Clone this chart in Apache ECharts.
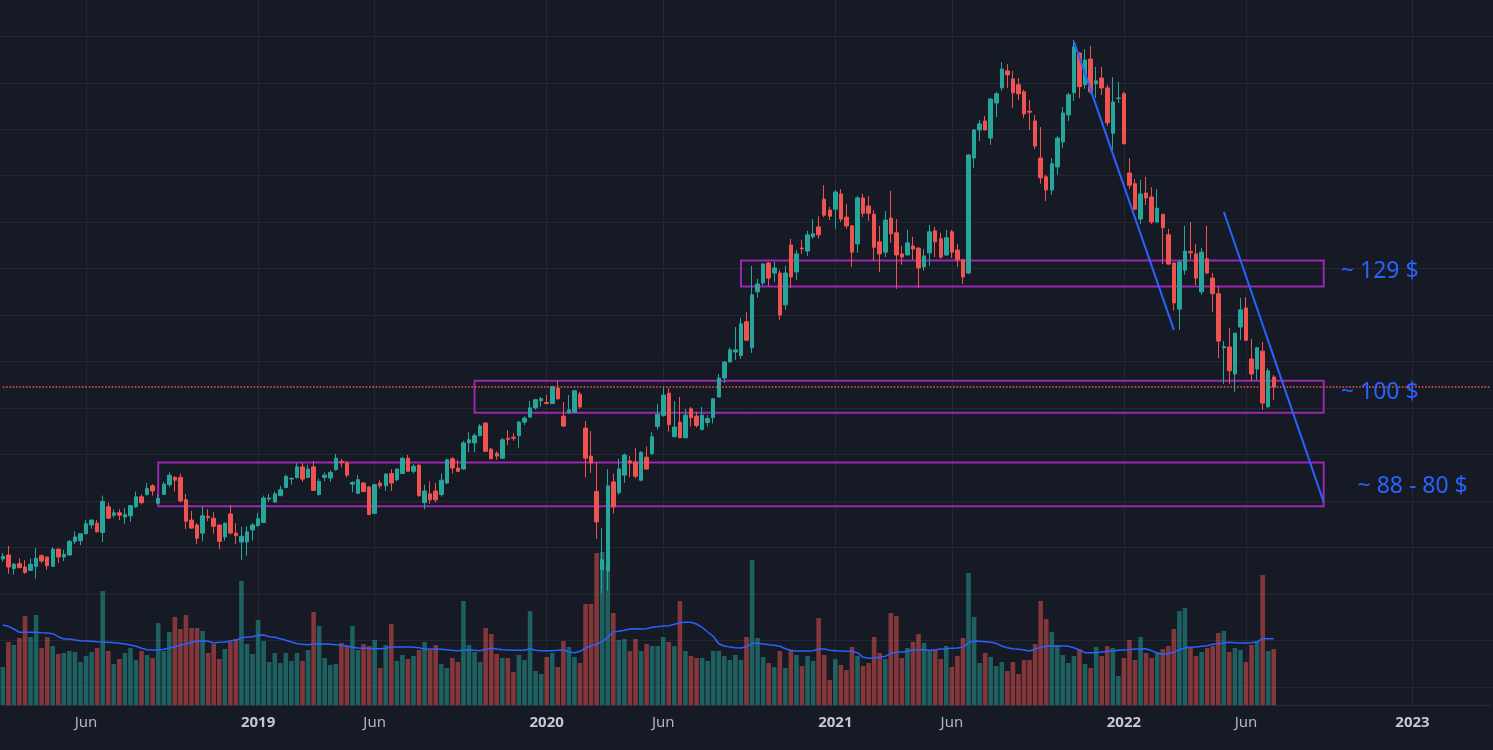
<!DOCTYPE html>
<html>
<head>
<meta charset="utf-8">
<title>Weekly price chart</title>
<script src="https://cdn.jsdelivr.net/npm/echarts@6.0.0/dist/echarts.min.js"></script>
<style>
html,body{margin:0;padding:0;background:#161a25;overflow:hidden;}
#chart{width:1493px;height:750px;}
</style>
</head>
<body>
<div id="chart"></div>
<script>
// ---------- DATA (weekly bars) ----------
const startDate = '2018-02-19';
const weekCount = 269; // visible time scale incl. empty future weeks

const open = [
70.7,71.3,69.3,70.0,69.5,69.0,69.6,71.2,71.0,69.6,
72.2,71.0,71.3,73.4,73.5,74.6,76.0,76.3,74.8,79.0,
77.6,78.0,77.3,77.5,79.0,80.7,81.1,82.6,79.6,81.1,
82.8,84.1,84.1,80.2,76.8,76.0,74.7,77.4,77.1,76.0,
74.1,77.8,74.7,73.3,73.3,75.2,75.9,76.4,80.3,79.8,
80.9,82.3,83.8,84.1,86.0,84.1,86.0,81.1,84.1,84.0,
85.5,87.0,86.7,82.9,81.3,83.1,82.4,77.9,83.1,82.6,
84.8,83.7,84.8,87.6,85.2,86.3,79.7,81.2,81.7,81.1,
83.1,87.5,85.8,85.6,90.5,90.5,91.9,94.4,89.3,88.5,
87.6,91.4,91.6,91.9,94.6,95.6,97.5,99.0,98.6,98.4,
101.7,95.8,96.5,96.6,100.4,93.4,88.0,81.6,69.1,68.9,
83.3,81.4,84.5,87.1,86.9,83.6,87.8,88.5,93.7,95.9,
100.6,91.7,94.6,91.5,97.3,95.8,93.1,94.5,95.5,99.8,
103.9,107.5,109.8,109.0,117.1,110.8,124.8,127.2,132.7,129.9,
129.9,121.4,137.9,130.2,137.0,136.1,140.3,143.3,152.0,148.5,
148.8,153.7,146.3,143.6,138.2,152.4,149.8,147.2,138.8,135.8,
146.0,141.5,135.3,135.0,137.6,137.0,131.6,135.6,142.1,139.7,
135.0,141.8,136.4,133.6,129.9,165.9,176.1,179.5,173.1,186.5,
192.6,199.7,196.3,193.9,191.0,183.3,179.5,165.9,159.4,155.0,
162.8,171.7,181.8,190.6,207.4,193.9,204.8,194.3,196.7,192.6,
174.9,188.3,190.2,160.7,157.1,145.7,154.0,152.7,144.8,147.2,
140.9,132.7,120.3,130.7,136.0,135.3,124.8,133.9,128.5,124.3,
110.8,111.0,104.8,115.8,120.6,108.2,105.9,110.0,97.7,104.1];

const high = [
71.6,72.7,70.1,70.8,70.5,70.8,72.4,71.4,71.0,72.5,
72.3,72.1,73.6,75.0,74.7,76.8,76.9,76.8,80.9,79.7,
78.6,78.6,78.8,79.3,81.6,81.1,83.1,82.9,81.1,83.3,
85.0,84.3,84.8,81.2,78.3,76.3,79.0,78.6,78.1,76.0,
76.4,79.3,76.3,75.7,75.8,76.3,78.0,80.9,81.2,81.6,
82.6,84.6,84.1,86.7,86.7,86.4,87.1,83.9,85.0,85.4,
88.4,87.5,87.1,83.4,84.5,83.2,82.6,83.0,83.6,84.8,
85.6,85.7,87.8,88.2,86.5,86.5,82.8,83.4,83.1,84.8,
87.5,87.8,87.3,90.9,92.6,92.4,94.2,94.6,89.5,88.9,
91.5,93.0,92.4,94.8,95.8,99.0,99.4,99.8,100.2,102.2,
103.3,98.7,100.2,101.3,100.9,94.8,92.8,86.9,75.5,85.6,
84.8,87.5,88.5,88.0,89.5,88.9,89.8,92.6,98.3,102.1,
101.7,98.9,99.8,97.3,97.7,96.7,97.7,96.0,99.5,104.8,
107.6,110.8,115.8,118.1,119.6,131.9,128.3,132.7,133.0,133.0,
130.7,131.9,139.7,136.4,139.4,142.1,145.7,146.6,156.6,149.5,
155.0,155.3,150.4,143.9,153.0,153.7,153.0,148.5,143.6,148.2,
154.7,145.7,137.6,142.4,140.3,137.1,136.7,143.9,143.3,141.5,
142.4,142.4,138.2,133.9,167.4,176.5,179.9,181.4,188.2,191.0,
203.5,202.6,199.7,196.7,191.8,187.7,181.8,177.2,160.1,165.9,
173.8,184.9,190.6,213.3,207.6,209.2,210.6,201.4,201.4,193.9,
197.1,195.1,191.0,165.9,158.7,158.4,159.4,155.9,155.3,147.3,
142.7,132.8,133.6,143.6,144.8,138.2,137.0,143.6,129.9,126.4,
112.4,115.6,114.4,123.2,123.4,112.9,111.0,112.2,106.1,104.6];

const low = [
70.3,68.5,68.4,69.4,68.5,68.9,67.8,70.1,69.1,69.5,
70.1,70.4,71.2,73.0,72.8,74.5,75.4,74.8,73.3,77.0,
77.2,76.8,76.2,76.5,78.8,79.4,80.9,80.9,79.5,81.0,
82.4,81.6,79.7,75.3,75.4,73.0,73.4,76.6,74.6,72.2,
73.5,74.5,73.0,70.5,71.2,73.5,75.7,76.3,79.8,79.7,
80.8,82.2,82.8,83.9,83.3,84.0,81.7,80.9,83.4,83.3,
85.3,85.9,84.1,81.5,81.2,81.5,77.6,77.8,82.1,81.7,
81.7,83.4,84.7,85.1,84.8,80.7,78.6,79.5,79.7,80.7,
82.9,84.8,85.1,85.5,88.7,88.7,91.8,88.8,87.4,87.3,
87.5,90.1,90.9,89.5,94.0,95.5,97.1,97.7,98.3,98.3,
99.2,93.6,96.3,96.5,97.3,84.1,84.9,73.8,65.7,66.1,
77.9,81.1,83.1,84.1,83.9,83.4,85.5,88.2,93.1,95.7,
92.7,91.6,91.4,91.4,93.7,93.5,93.0,93.7,94.3,99.7,
102.8,107.4,108.0,108.2,112.5,109.6,123.2,126.6,126.4,127.4,
117.6,120.1,125.8,128.0,135.3,134.7,139.7,139.7,146.3,145.4,
142.7,144.8,142.7,131.6,135.6,146.3,145.1,133.3,130.2,134.4,
138.5,125.6,132.2,134.9,133.6,125.8,130.5,131.9,134.4,133.9,
134.7,134.1,131.6,126.9,129.6,162.5,172.0,176.0,170.6,181.0,
191.4,192.6,184.6,187.7,180.6,176.1,169.1,157.1,151.4,153.4,
160.1,169.5,179.5,187.3,188.5,192.2,190.2,188.5,189.8,177.6,
168.8,186.5,170.9,155.3,148.5,144.2,150.1,144.2,144.5,132.4,
132.2,119.9,115.1,129.4,133.9,126.6,124.0,129.6,119.6,108.4,
102.6,102.6,100.9,112.6,112.4,103.2,103.5,97.1,97.6,99.2];

const close = [
71.1,69.5,69.9,69.4,68.7,69.9,70.8,70.4,69.7,72.2,
71.0,71.4,73.4,74.1,74.6,76.2,76.8,74.9,79.9,77.1,
78.0,77.6,77.7,79.2,80.7,79.7,82.1,81.7,80.4,82.9,
84.5,83.6,80.0,76.6,75.5,73.9,77.5,77.2,75.8,73.4,
76.3,74.7,74.3,74.2,74.9,76.0,77.0,80.5,80.5,81.2,
81.9,84.3,83.9,86.0,83.8,85.6,81.8,83.4,84.5,85.0,
87.6,86.8,84.5,83.2,83.7,81.6,77.7,82.8,82.6,84.7,
83.1,85.6,87.6,85.2,86.1,80.9,81.7,80.2,80.2,83.6,
87.3,85.8,85.2,90.5,91.1,91.9,93.8,88.9,87.5,88.0,
91.1,91.2,91.4,94.6,95.4,97.5,99.2,99.4,98.4,102.0,
99.4,93.8,97.1,101.1,97.7,87.6,86.7,76.5,70.6,82.6,
79.0,85.6,88.2,86.7,84.3,88.7,85.6,91.7,96.2,100.2,
94.1,93.6,91.5,96.0,95.5,93.9,96.0,95.3,99.4,103.9,
107.5,110.3,110.3,116.6,112.6,124.0,126.9,132.4,128.5,131.3,
118.8,129.9,128.8,135.3,136.8,140.9,141.2,140.9,146.9,146.6,
154.3,145.7,143.6,135.8,152.4,147.5,147.5,137.2,135.3,145.4,
141.2,135.0,134.4,138.5,136.7,131.3,134.7,141.8,138.8,134.4,
140.0,135.8,133.6,128.8,167.0,176.1,178.4,176.1,188.1,190.2,
200.5,198.0,190.6,190.2,182.2,182.9,170.2,159.1,155.0,163.9,
173.1,182.6,189.8,210.1,193.1,204.4,191.0,195.5,192.6,178.8,
186.9,188.5,171.0,156.6,148.8,153.7,152.4,144.8,149.1,143.0,
132.4,121.9,133.0,136.1,135.6,128.5,135.8,129.9,124.3,112.4,
111.1,105.5,114.3,120.1,112.6,104.8,110.8,98.5,105.5,101.9];

// volume (millions, estimated)
const volume = [
3.8,6.3,6.0,6.7,8.9,6.8,9.0,5.7,6.8,5.9,
5.1,5.2,5.4,5.3,4.3,4.9,5.3,5.7,11.4,5.4,
4.1,4.6,5.2,5.7,4.5,5.4,5.0,4.7,8.2,5.4,
7.3,8.8,7.6,9.0,7.7,7.7,7.4,5.2,6.1,4.6,
5.6,6.3,6.6,12.4,6.1,5.1,8.5,6.4,4.3,5.2,
4.2,5.2,4.4,5.2,4.4,5.5,9.3,7.9,4.7,4.0,
4.1,6.2,5.9,7.9,5.5,6.1,5.9,6.5,3.7,6.0,
8.1,4.4,5.0,4.6,4.9,5.5,6.3,5.5,6.0,4.1,
3.7,4.7,4.3,10.4,6.0,5.3,4.3,7.7,7.1,5.1,
4.7,4.7,3.3,5.0,4.5,9.4,3.4,3.1,4.8,5.2,
3.8,6.4,5.8,4.8,4.2,10.1,10.1,15.2,15.3,14.0,
9.2,6.5,6.6,5.4,6.6,5.4,6.1,5.9,5.9,6.8,
6.3,5.9,10.4,5.4,4.9,4.7,4.7,4.4,5.4,5.4,
4.9,4.5,5.0,4.5,6.8,14.5,6.7,4.8,4.2,3.8,
5.4,3.7,5.5,5.0,3.9,4.9,4.4,8.7,5.0,2.5,
4.6,4.0,3.5,5.8,4.9,3.9,4.2,6.8,5.2,4.6,
9.2,8.9,4.7,5.7,6.3,7.1,6.2,5.5,5.5,4.6,
5.9,3.8,4.9,6.7,13.2,8.8,4.2,5.2,4.8,3.9,
4.3,3.4,4.3,3.1,4.5,4.5,6.1,10.4,8.6,7.3,
5.9,5.0,4.2,4.9,5.6,4.1,3.7,5.8,4.9,5.9,
5.7,2.9,4.7,6.5,4.5,6.8,5.2,4.7,5.3,5.6,
5.9,7.6,9.4,9.7,5.7,4.9,5.3,5.7,5.9,7.2,
7.4,5.3,5.7,5.5,4.3,6.0,6.4,13.0,5.4,5.6];

// volume moving average as drawn
const volumeMA = [
8.00,7.87,7.60,7.27,7.27,7.27,7.27,7.23,7.20,7.13,
6.83,6.60,6.60,6.50,6.43,6.40,6.37,6.33,6.30,6.27,
6.23,6.17,6.10,6.00,5.87,5.67,5.53,5.50,5.50,5.57,
5.70,5.83,5.97,6.10,6.27,6.40,6.43,6.37,6.20,6.27,
6.30,6.40,6.50,6.70,6.80,6.83,6.97,7.00,6.83,6.77,
6.63,6.47,6.30,6.13,6.07,6.03,6.10,6.13,6.10,6.07,
6.03,6.00,5.90,5.77,5.70,5.67,5.67,5.63,5.63,5.67,
5.80,5.80,5.80,5.80,5.77,5.73,5.57,5.60,5.60,5.57,
5.53,5.47,5.43,5.47,5.50,5.47,5.43,5.57,5.67,5.60,
5.53,5.50,5.47,5.47,5.47,5.63,5.47,5.43,5.43,5.43,
5.47,5.50,5.30,5.23,5.37,5.70,5.90,6.07,6.37,6.77,
7.30,7.37,7.47,7.60,7.63,7.60,7.63,7.77,7.83,7.90,
7.93,8.07,8.23,8.27,8.27,8.10,7.77,7.30,6.87,6.13,
5.90,5.80,5.73,5.70,5.83,6.17,6.17,6.10,6.03,5.97,
5.87,5.63,5.47,5.40,5.40,5.40,5.43,5.60,5.60,5.47,
5.43,5.40,5.37,5.37,5.23,4.77,4.67,4.70,4.77,4.87,
5.17,5.27,5.30,5.37,5.50,5.53,5.53,5.47,5.53,5.60,
5.63,5.67,5.70,5.77,6.23,6.40,6.37,6.33,6.27,6.17,
5.90,5.73,5.63,5.57,5.50,5.40,5.60,5.77,5.87,5.90,
5.93,5.90,5.87,5.73,5.50,5.23,5.23,5.23,5.30,5.37,
5.43,5.47,5.50,5.53,5.60,5.60,5.63,5.43,5.20,5.07,
5.13,5.30,5.53,5.70,5.77,5.80,5.87,5.93,6.07,6.13,
6.20,6.27,6.23,6.20,6.20,6.23,6.33,6.63,6.63,6.63];

// time-axis tick labels
const tickDates  = ['2018-06-04','2019-01-07','2019-06-03','2020-01-06','2020-06-01','2021-01-04','2021-05-31','2022-01-03','2022-06-06','2023-01-02'];
const tickLabels = ['Jun','2019','Jun','2020','Jun','2021','Jun','2022','Jun','2023'];

// drawings: price zones, trend lines, notes
const zoneFrom   = ['2018-09-03','2019-10-07','2020-09-07'];
const zoneTo     = ['2022-09-12','2022-09-12','2022-09-12'];
const zoneTop    = [86.8, 103.3, 133.4];
const zoneBottom = [79.1, 96.5, 126.2];

const trendFrom      = ['2021-11-01','2022-05-09'];
const trendFromPrice = [212.5, 148.0];
const trendTo        = ['2022-03-07','2022-09-12'];
const trendToPrice   = [115.1, 79.8];

const noteText  = ['~ 129 $','~ 100 $','~ 88 - 80 $'];
const noteDate  = ['2022-10-03','2022-10-03','2022-10-24'];
const notePrice = [130.3, 100.85, 82.45];

// ---------- BUILD ----------
const categories = [];
const t0 = Date.parse(startDate + 'T00:00:00Z');
for (let i = 0; i < weekCount; i++) {
  categories.push(new Date(t0 + i * 7 * 86400000).toISOString().slice(0, 10));
}
const labelMap = {};
tickDates.forEach((d, i) => { labelMap[d] = tickLabels[i]; });
const isTick = (idx) => labelMap[categories[idx]] !== undefined;

const UP = '#26a69a', DOWN = '#ef5350', BG = '#161a25', GRID = '#232733';
const BLUE = '#2962ff', PURPLE = '#9c27b0';
const FONT = 'Noto Sans';

const candleData = open.map((o, i) => [o, close[i], low[i], high[i]]);
const volData = volume.map((v, i) => ({
  value: v,
  itemStyle: { color: close[i] >= open[i] ? 'rgba(38,166,154,0.5)' : 'rgba(239,83,80,0.5)' }
}));

const chart = echarts.init(document.getElementById('chart'), null, { renderer: 'canvas' });
chart.setOption({
  backgroundColor: BG,
  animation: false,
  textStyle: { fontFamily: FONT },
  grid: [
    { left: 2.8, right: 2.8, top: 0, bottom: 45 },
    { left: 2.8, right: 2.8, top: 505, bottom: 45 },
    { left: 0, right: 0, top: 36.3, bottom: 63 }
  ],
  xAxis: [
    { type: 'category', gridIndex: 0, data: categories, boundaryGap: false,
      axisLine: { show: false }, axisTick: { show: false }, axisLabel: { show: false },
      splitLine: { show: true, interval: (i) => isTick(i), lineStyle: { color: GRID, width: 1 } } },
    { type: 'category', gridIndex: 1, data: categories, boundaryGap: false,
      axisLine: { show: true, lineStyle: { color: '#2a2e39', width: 1 } },
      axisTick: { show: false }, splitLine: { show: false },
      axisLabel: { show: true, interval: (i) => isTick(i), margin: 10,
        formatter: (v) => { const l = labelMap[v]; if (!l) return ''; return l === 'Jun' ? '{m|Jun}' : '{y|' + l + '}'; },
        rich: {
          m: { fontSize: 15, color: '#b2b5be', fontFamily: FONT },
          y: { fontSize: 15, color: '#c5c8d0', fontWeight: 'bold', fontFamily: FONT }
        } } },
    { type: 'value', gridIndex: 2, min: 0, max: 1, show: false }
  ],
  yAxis: [
    { type: 'log', gridIndex: 0, min: 51.82, max: 232.2, show: false },
    { type: 'value', gridIndex: 1, min: 0, max: 20, show: false },
    { type: 'value', gridIndex: 2, min: 0, max: 14, interval: 1,
      axisLine: { show: false }, axisTick: { show: false }, axisLabel: { show: false },
      splitLine: { show: true, lineStyle: { color: GRID, width: 1 } } }
  ],
  series: [
    { type: 'line', xAxisIndex: 2, yAxisIndex: 2, data: [], silent: true },
    { name: 'Volume', type: 'bar', xAxisIndex: 1, yAxisIndex: 1, data: volData,
      barWidth: 4.6, clip: false, silent: true, z: 1 },
    { name: 'Volume MA', type: 'line', xAxisIndex: 1, yAxisIndex: 1, data: volumeMA,
      symbol: 'none', silent: true, z: 2, lineStyle: { color: BLUE, width: 1.5 } },
    { name: 'Price', type: 'candlestick', xAxisIndex: 0, yAxisIndex: 0, data: candleData,
      barWidth: 4, clip: false, silent: true, z: 4,
      itemStyle: { color: UP, color0: DOWN, borderColor: UP, borderColor0: DOWN, borderWidth: 1 } },
    { name: 'Drawings', type: 'line', xAxisIndex: 0, yAxisIndex: 0, data: [], silent: true, z: 10,
      markArea: { silent: true,
        itemStyle: { color: 'rgba(0,0,0,0)', borderColor: PURPLE, borderWidth: 2 },
        data: zoneFrom.map((d, i) => [{ xAxis: d, yAxis: zoneTop[i] }, { xAxis: zoneTo[i], yAxis: zoneBottom[i] }]) },
      markLine: { silent: true, symbol: ['none', 'none'], label: { show: false },
        data: trendFrom.map((d, i) => [
          { coord: [d, trendFromPrice[i]], lineStyle: { color: BLUE, width: 2, type: 'solid' } },
          { coord: [trendTo[i], trendToPrice[i]] }
        ]).concat([{ yAxis: close[close.length - 1], lineStyle: { color: DOWN, width: 1.6, type: [1.6, 1.7], opacity: 1 } }]) },
      markPoint: { silent: true, symbol: 'rect', symbolSize: 1, itemStyle: { color: 'rgba(0,0,0,0)' },
        data: noteText.map((t, i) => ({ name: t, coord: [noteDate[i], notePrice[i]] })),
        label: { show: true, position: 'right', distance: 0, formatter: '{b}', color: BLUE, fontSize: 23, fontFamily: FONT } }
    }
  ]
});
</script>
</body>
</html>
